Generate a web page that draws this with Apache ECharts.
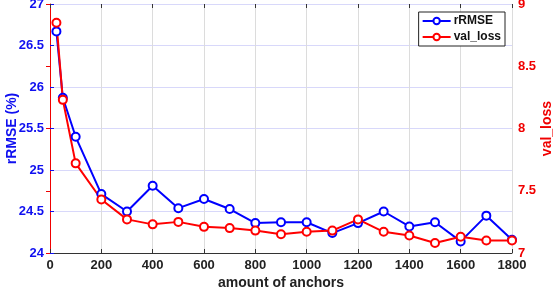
<!DOCTYPE html>
<html><head><meta charset="utf-8">
<script src="https://cdn.jsdelivr.net/npm/echarts@6/dist/echarts.min.js"></script>
<style>html,body{margin:0;padding:0;background:#fff}#c{width:558px;height:290px}</style>
</head><body><div id="c"></div>
<script>
var anchors = [25, 50, 100, 200, 300, 400, 500, 600, 700, 800, 900, 1000, 1100, 1200, 1300, 1400, 1500, 1600, 1700, 1800];
var rRMSE = [26.67, 25.87, 25.40, 24.71, 24.50, 24.81, 24.54, 24.65, 24.53, 24.36, 24.37, 24.37, 24.24, 24.36, 24.50, 24.32, 24.37, 24.14, 24.45, 24.16];
var valLoss = [8.85, 8.23, 7.72, 7.43, 7.27, 7.23, 7.25, 7.21, 7.20, 7.18, 7.15, 7.17, 7.18, 7.27, 7.17, 7.14, 7.08, 7.13, 7.10, 7.10];

function pairs(xs, ys){ return xs.map(function(x,i){ return [x, ys[i]]; }); }
var font = 'Liberation Sans, Arial, sans-serif';
var chart = echarts.init(document.getElementById('c'));
chart.setOption({
  animation: false,
  backgroundColor: '#fff',
  grid: {left: 50, right: 46, top: 4, bottom: 37, containLabel: false, outerBoundsMode: 'none'},
  legend: {
    right: 53, top: 12, orient: 'vertical', itemGap: 4,
    backgroundColor: '#fff', borderColor: '#222', borderWidth: 1, borderRadius: 0,
    padding: [3, 4, 3, 3], itemWidth: 28, itemHeight: 8,
    textStyle: {fontFamily: font, fontWeight: 'bold', fontSize: 12, color: '#111', padding: [0,0,0,-2]},
    data: ['rRMSE', 'val_loss']
  },
  xAxis: [{
    type: 'value', min: 0, max: 1800, interval: 200,
    name: 'amount of anchors', nameLocation: 'middle', nameGap: 23, nameMoveOverlap: false,
    nameTextStyle: {fontFamily: font, fontWeight: 'bold', fontSize: 14, color: '#222'},
    axisLine: {show: true, lineStyle: {color: '#333', width: 1}},
    axisTick: {show: true, inside: true, length: 4, lineStyle: {color: '#333'}},
    axisLabel: {fontFamily: font, fontWeight: 'bold', fontSize: 13, color: '#222', margin: 6,
      formatter: function(v){ return String(v); }},
    splitLine: {show: true, lineStyle: {color: '#dcdcdc', width: 1}}
  }, {
    type: 'value', position: 'top', min: 0, max: 1800, interval: 200,
    axisLine: {show: false},
    axisTick: {show: true, inside: true, length: 4, lineStyle: {color: '#333'}},
    axisLabel: {show: false}, splitLine: {show: false}
  }],
  yAxis: [{
    type: 'value', min: 24, max: 27, interval: 0.5,
    name: 'rRMSE (%)', nameLocation: 'middle', nameGap: 31, nameRotate: 90, nameMoveOverlap: false,
    nameTextStyle: {fontFamily: font, fontWeight: 'bold', fontSize: 14, color: '#1010f0'},
    axisLine: {show: false},
    axisTick: {show: true, inside: true, length: 4, lineStyle: {color: '#1010f0'}},
    axisLabel: {fontFamily: font, fontWeight: 'bold', fontSize: 13, color: '#1010f0', margin: 6},
    splitLine: {show: true, lineStyle: {color: '#d8d8fa', width: 1}}
  }, {
    type: 'value', min: 7, max: 9, interval: 0.5, position: 'right',
    name: 'val_loss', nameLocation: 'middle', nameGap: 28, nameRotate: 90, nameMoveOverlap: false,
    nameTextStyle: {fontFamily: font, fontWeight: 'bold', fontSize: 14, color: '#f00000'},
    axisLine: {show: true, lineStyle: {color: '#f00000', width: 1}},
    axisTick: {show: true, inside: true, length: 4, lineStyle: {color: '#f00000'}},
    axisLabel: {fontFamily: font, fontWeight: 'bold', fontSize: 13, color: '#f00000', margin: 6},
    splitLine: {show: false}
  }],
  series: [{
    name: 'rRMSE', type: 'line', xAxisIndex: 0, yAxisIndex: 0,
    data: pairs(anchors, rRMSE),
    symbol: 'circle', symbolSize: 8, showAllSymbol: true,
    lineStyle: {color: '#0000ff', width: 2},
    itemStyle: {color: '#fff', borderColor: '#0000ff', borderWidth: 2},
    color: '#0000ff'
  }, {
    name: 'val_loss', type: 'line', xAxisIndex: 0, yAxisIndex: 1,
    data: pairs(anchors, valLoss),
    symbol: 'circle', symbolSize: 8, showAllSymbol: true,
    lineStyle: {color: '#ff0000', width: 2},
    itemStyle: {color: '#fff', borderColor: '#ff0000', borderWidth: 2},
    color: '#ff0000'
  }]
});
</script></body></html>
